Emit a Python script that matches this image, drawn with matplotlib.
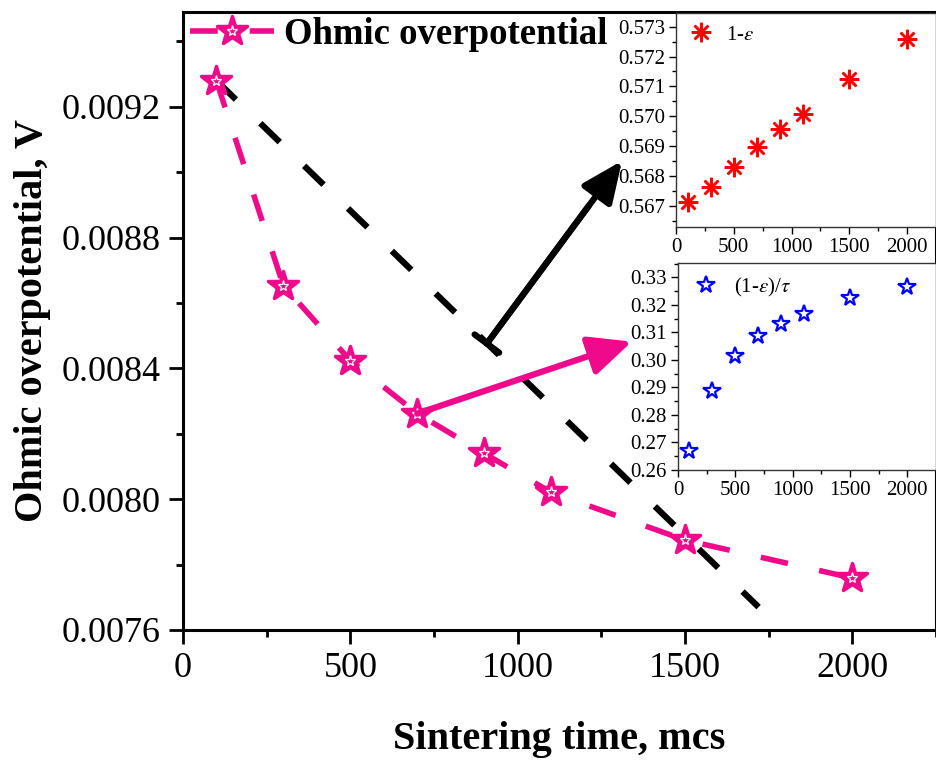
import matplotlib
matplotlib.use("Agg")
import matplotlib.pyplot as plt
from matplotlib.ticker import MultipleLocator, FormatStrFormatter
from matplotlib.markers import MarkerStyle
from matplotlib.legend_handler import HandlerTuple

plt.rcParams['font.family'] = ['Liberation Serif', 'DejaVu Serif']
plt.rcParams['mathtext.fontset'] = 'stix'
plt.rcParams['lines.scale_dashes'] = False

# Data
time = [100, 300, 500, 700, 900, 1100, 1500, 2000]
ohmic = [0.009279, 0.008653, 0.008424, 0.008262, 0.008140, 0.008021, 0.007875, 0.007759]
one_minus_eps = [0.56714, 0.56764, 0.56830, 0.56898, 0.56956, 0.57008, 0.57124, 0.57258]
eps_over_tau = [0.2669, 0.2888, 0.3013, 0.3088, 0.3130, 0.3167, 0.3225, 0.3266]
trend_x = [100, 1720]
trend_y = [0.009280, 0.007670]

pink = '#EE0A8A'

fig = plt.figure(figsize=(9.36, 7.63), dpi=100)
ax = fig.add_axes([183/936, 1-630/763, 1-183/936, (630-12)/763])

star_round = MarkerStyle('*', joinstyle='round')

ax.plot(trend_x, trend_y, color='black', lw=4.5, dashes=(19.5, 24.5), zorder=2)
l1, = ax.plot(time, ohmic, color=pink, lw=4.0, dashes=(20, 23), marker=star_round, ms=22,
              mfc=pink, mec=pink, mew=2.5, zorder=3)
l2, = ax.plot(time, ohmic, ls='none', marker='*', ms=8, mfc='none', mec='white', mew=0.9, zorder=4)

ax.set_xlim(0, 2250)
ax.set_ylim(0.0076, 0.00949)
ax.xaxis.set_major_locator(MultipleLocator(500))
ax.xaxis.set_minor_locator(MultipleLocator(250))
ax.yaxis.set_major_locator(MultipleLocator(0.0004))
ax.yaxis.set_minor_locator(MultipleLocator(0.0002))
ax.yaxis.set_major_formatter(FormatStrFormatter('%.4f'))
ax.tick_params(which='major', direction='out', length=10, width=2, labelsize=26, pad=6)
ax.tick_params(which='minor', direction='out', length=5, width=2)
for s in ax.spines.values():
    s.set_linewidth(2.2)
ax.set_xlabel('Sintering time, mcs', fontsize=29, fontweight='bold', labelpad=26)
ax.set_ylabel('Ohmic overpotential, V', fontsize=29, fontweight='bold', labelpad=8)

ax.legend([(l1, l2)], ['Ohmic overpotential'],
          handler_map={tuple: HandlerTuple(ndivide=1, pad=0)},
          loc='upper left', bbox_to_anchor=(-0.035, 1.045), frameon=False,
          handlelength=2.3, handletextpad=0.25,
          prop={'weight': 'bold', 'size': 26.5})

# arrows
ax.annotate('', xy=(1312, 0.009035), xytext=(908, 0.008476),
            arrowprops=dict(arrowstyle='-|>,head_length=1.25,head_width=0.55',
                            color='black', lw=4.5, mutation_scale=20,
                            shrinkA=0, shrinkB=0), zorder=5)
ax.annotate('', xy=(1312, 0.009035), xytext=(908, 0.008476),
            arrowprops=dict(arrowstyle='|-|,widthA=0.55,widthB=0',
                            color='black', lw=4.5, mutation_scale=20,
                            shrinkA=0, shrinkB=40), zorder=5)
ax.annotate('', xy=(1341, 0.008482), xytext=(700, 0.008262),
            arrowprops=dict(arrowstyle='-|>,head_length=1.3,head_width=0.6',
                            color=pink, lw=4.5, mutation_scale=20,
                            shrinkA=0, shrinkB=0), zorder=5)

# inset 1
ax1 = fig.add_axes([676/936, 1-227/763, 1-676/936, (227-12.7)/763])
ax1.plot(time, one_minus_eps, ls='none', marker=(8, 2, 0), ms=14, mew=1.8,
         color='red', label=r'1-$\varepsilon$')
ax1.set_xlim(0, 2250)
ax1.set_ylim(0.56629, 0.57347)
ax1.xaxis.set_major_locator(MultipleLocator(500))
ax1.xaxis.set_minor_locator(MultipleLocator(250))
ax1.yaxis.set_major_locator(MultipleLocator(0.001))
ax1.yaxis.set_minor_locator(MultipleLocator(0.0005))
ax1.yaxis.set_major_formatter(FormatStrFormatter('%.3f'))
ax1.legend(loc='upper left', frameon=False, fontsize=15, handletextpad=0.6,
           borderaxespad=0.2, handlelength=1.2)

# inset 2
ax2 = fig.add_axes([678/936, 1-470/763, 1-678/936, (470-263)/763])
ax2.plot(time, eps_over_tau, ls='none', marker='*', ms=13, mew=1.6,
         mfc='white', mec='blue', label=r'(1-$\varepsilon$)/$\tau$')
ax2.set_xlim(0, 2250)
ax2.set_ylim(0.26, 0.3352)
ax2.xaxis.set_major_locator(MultipleLocator(500))
ax2.xaxis.set_minor_locator(MultipleLocator(250))
ax2.yaxis.set_major_locator(MultipleLocator(0.01))
ax2.yaxis.set_minor_locator(MultipleLocator(0.005))
ax2.yaxis.set_major_formatter(FormatStrFormatter('%.2f'))
ax2.legend(loc='upper left', frameon=False, fontsize=15, handletextpad=0.6,
           borderaxespad=0.2, handlelength=1.5)

for a in (ax1, ax2):
    a.tick_params(which='major', direction='out', length=5, width=1, labelsize=15, pad=3)
    a.tick_params(which='minor', direction='out', length=3, width=1)
    for s in a.spines.values():
        s.set_linewidth(1.0)
        s.set_color('#333333')

fig.savefig('out.png', dpi=100)
